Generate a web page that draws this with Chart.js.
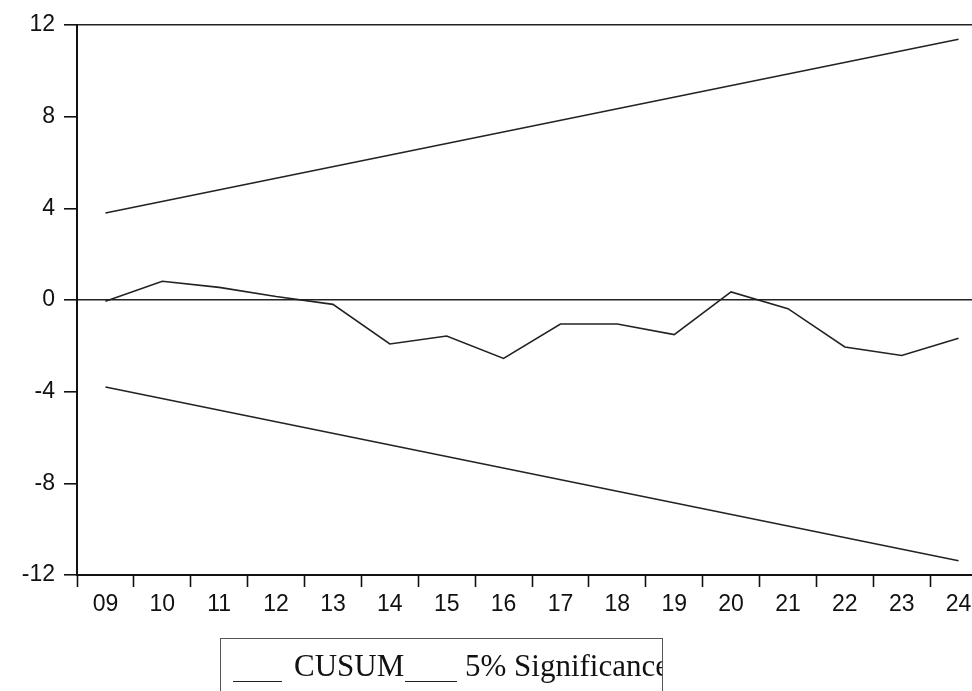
<!DOCTYPE html>
<html>
<head>
<meta charset="utf-8">
<script src="https://cdn.jsdelivr.net/npm/chart.js@4"></script>
<style>
    html, body { margin: 0; padding: 0; background: #fff; overflow: hidden; }
    #wrap { position: absolute; left: 0; top: 0; width: 1000px; height: 691px; }
    #legend {
        position: absolute; left: 220px; top: 638px; width: 443px; height: 80px;
        border: 1.5px solid #555; overflow: hidden; box-sizing: border-box;
        font-family: "Liberation Serif", "Times New Roman", serif; font-size: 31px;
        line-height: 31px; color: #111; white-space: nowrap;
    }
    #legend .txt { position: absolute; top: 11px; }
    #legend .swatch { position: absolute; top: 42px; height: 0; border-top: 1.6px solid #222; }
</style>
</head>
<body>
<div id="wrap"><canvas id="cusumChart" width="1000" height="691"></canvas></div>
<div id="legend">
    <div class="swatch" style="left: 12px; width: 49px;"></div>
    <span class="txt" style="left: 73px;">CUSUM</span>
    <div class="swatch" style="left: 184px; width: 52px;"></div>
    <span class="txt" style="left: 244px;">5% Significance</span>
</div>
<script>
// years 2009..2024 on the x axis
const years = ['09', '10', '11', '12', '13', '14', '15', '16', '17', '18', '19', '20', '21', '22', '23', '24'];

// CUSUM values
const cusum = [-0.05, 0.82, 0.55, 0.15, -0.19, -1.92, -1.57, -2.55, -1.05, -1.05, -1.51, 0.35, -0.38, -2.05, -2.42, -1.67];

// 5% significance bounds: straight lines, only the end points are given
const upperBound = [3.8, null, null, null, null, null, null, null, null, null, null, null, null, null, null, 11.38];
const lowerBound = [-3.8, null, null, null, null, null, null, null, null, null, null, null, null, null, null, -11.38];

const yTicks = [-12, -8, -4, 0, 4, 8, 12];

const lineStyle = {
    borderColor: '#222',
    borderWidth: 1.6,
    pointRadius: 0,
    tension: 0,
    fill: false
};

const config = {
    type: 'line',
    data: {
        labels: years,
        datasets: [
            Object.assign({ label: 'CUSUM', data: cusum }, lineStyle),
            Object.assign({ label: '5% Significance', data: upperBound, spanGaps: true }, lineStyle),
            Object.assign({ label: '5% Significance (lower)', data: lowerBound, spanGaps: true }, lineStyle)
        ]
    },
    options: {
        responsive: false,
        animation: false,
        layout: { padding: { top: 25, right: 13, bottom: 71, left: 0 } },
        plugins: { legend: { display: false }, tooltip: { enabled: false } },
        scales: {
            x: {
                type: 'category',
                offset: true,
                grid: {
                    offset: true,
                    drawOnChartArea: false,
                    tickLength: 12,
                    tickColor: '#111',
                    tickWidth: 1.6
                },
                border: { color: '#111', width: 2 },
                ticks: {
                    color: '#111',
                    padding: 4,
                    maxRotation: 0,
                    autoSkip: false,
                    font: { family: '"Liberation Sans", Arial, sans-serif', size: 23 }
                },
                afterFit: axis => { axis.height = 45; }
            },
            y: {
                min: -12,
                max: 12,
                afterBuildTicks: axis => { axis.ticks = yTicks.map(v => ({ value: v })); },
                grid: {
                    color: ctx => (ctx.tick && (ctx.tick.value === 0 || ctx.tick.value === 12)) ? '#222' : 'rgba(0,0,0,0)',
                    lineWidth: 1.6,
                    tickLength: 13,
                    tickColor: '#111',
                    tickWidth: 1.6
                },
                border: { color: '#111', width: 2 },
                ticks: {
                    color: '#111',
                    padding: 9,
                    font: { family: '"Liberation Sans", Arial, sans-serif', size: 23 }
                },
                afterFit: axis => { axis.width = 77; }
            }
        }
    }
};

const cusumChart = new Chart(document.getElementById('cusumChart'), config);
</script>
</body>
</html>
